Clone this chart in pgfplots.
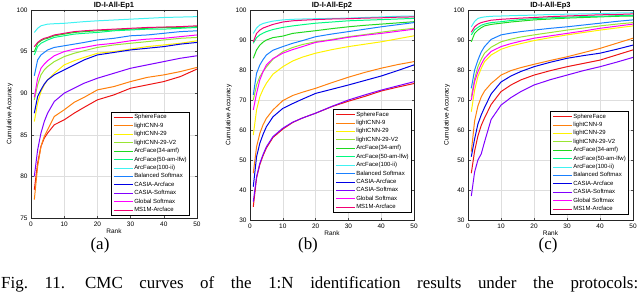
\documentclass[border=0pt]{standalone}
\usepackage{fontspec}
\setmainfont{Liberation Sans}
\newfontfamily\capfont{Liberation Serif}
\usepackage{pgfplots}
\usepackage{pgfplotstable}
\pgfplotsset{compat=1.18}

\definecolor{cSF}{rgb}{0.93,0.08,0.08}
\definecolor{cLC9}{rgb}{1.0,0.50,0.05}
\definecolor{cLC29}{rgb}{1.0,0.95,0.0}
\definecolor{cV2}{rgb}{0.60,0.90,0.20}
\definecolor{cA34}{rgb}{0.12,0.85,0.12}
\definecolor{cA50}{rgb}{0.0,0.98,0.50}
\definecolor{cA100}{rgb}{0.25,0.95,0.95}
\definecolor{cBAL}{rgb}{0.10,0.50,1.0}
\definecolor{cCA}{rgb}{0.0,0.0,0.90}
\definecolor{cCS}{rgb}{0.50,0.0,1.0}
\definecolor{cGS}{rgb}{1.0,0.0,1.0}
\definecolor{cMS}{rgb}{0.95,0.0,0.45}

\pgfplotstableread{
x sf lc9 lc29 v2 af34 af50 af100 bal casaf cassm glob ms1m
1 78.4 77.2 86.6 89.2 95.0 94.6 97.3 92.1 87.6 80.0 89.5 95.6
2 81.6 81.2 88.8 91.0 96.0 95.6 97.8 94.0 89.6 83.2 91.8 96.1
3 83.6 83.6 90.2 92.2 96.3 96.0 98.1 94.6 90.4 85.2 93.0 96.4
4 84.6 84.8 91.0 92.8 96.5 96.2 98.2 94.9 91.1 86.6 93.5 96.6
5 85.2 85.6 91.6 93.2 96.6 96.4 98.3 95.2 91.6 87.6 93.9 96.7
7 86.2 87.2 92.4 93.8 96.9 96.7 98.35 95.5 92.2 89.0 94.5 97.0
10 86.8 88.0 93.4 94.4 97.1 96.9 98.4 95.7 92.8 90.0 95.0 97.2
13 87.6 88.9 93.9 94.8 97.3 97.1 98.5 95.9 93.4 90.6 95.3 97.4
16 88.3 89.5 94.3 95.1 97.4 97.2 98.6 96.1 94.0 91.2 95.5 97.5
20 89.2 90.4 94.8 95.5 97.5 97.3 98.7 96.4 94.6 91.8 95.8 97.6
25 89.8 90.8 95.0 95.8 97.6 97.5 98.8 96.6 94.9 92.4 96.0 97.7
30 90.6 91.4 95.3 96.0 97.7 97.6 98.9 96.9 95.2 93.0 96.3 97.8
35 91.0 91.9 95.6 96.2 97.8 97.7 99.0 97.0 95.4 93.4 96.5 97.9
40 91.4 92.2 95.8 96.4 97.9 97.7 99.1 97.2 95.6 93.8 96.6 97.95
45 92.0 92.6 96.0 96.6 97.9 97.8 99.15 97.4 95.9 94.2 96.8 98.0
50 92.9 93.1 96.3 96.7 98.0 97.9 99.2 97.5 96.1 94.5 97.0 98.1
}\dataA

\pgfplotstableread{
x sf lc9 lc29 v2 af34 af50 af100 bal casaf cassm glob ms1m
1 34.4 45.6 58.3 70.0 83.9 88.9 92.2 71.7 41.1 36.1 66.7 89.4
2 44.0 54.4 66.7 75.0 86.7 90.8 94.0 78.9 51.1 44.4 72.2 92.2
3 48.5 58.9 71.1 77.8 88.3 91.7 95.0 81.7 55.6 48.9 76.7 93.3
4 51.5 61.8 73.6 79.5 89.3 92.3 95.5 83.5 58.6 51.9 79.5 94.0
5 54.0 63.9 75.6 81.0 90.0 92.8 95.8 85.0 61.1 54.4 81.7 94.4
7 57.5 66.7 78.6 83.6 90.8 93.5 96.3 86.6 64.4 57.8 83.8 95.2
10 60.3 69.8 81.1 86.1 91.3 94.2 96.7 87.8 67.2 60.6 85.6 96.0
13 62.5 71.5 83.0 87.5 92.2 94.7 96.9 88.9 68.8 62.6 86.8 96.4
16 64.0 72.6 84.3 88.5 92.6 95.1 97.0 89.8 70.3 64.0 87.8 96.6
20 65.6 73.9 85.6 89.4 93.1 95.6 97.1 91.1 72.2 65.6 89.2 96.8
25 67.8 75.8 86.8 90.2 93.8 96.0 97.2 92.0 73.6 67.9 90.0 97.0
30 69.6 77.6 87.8 91.1 94.4 96.4 97.3 92.8 75.0 70.0 90.9 97.1
35 71.2 79.2 88.6 91.8 94.9 96.6 97.5 93.6 76.5 71.7 91.6 97.3
40 73.0 80.6 89.4 92.6 95.3 96.8 97.7 94.4 78.0 73.3 92.2 97.4
45 74.3 81.8 90.4 93.3 95.7 97.0 97.9 95.1 79.8 74.7 92.9 97.6
50 75.5 82.8 91.4 93.9 96.1 97.2 98.0 95.8 81.7 76.1 93.6 97.7
}\dataB

\pgfplotstableread{
x sf lc9 lc29 v2 af34 af50 af100 bal casaf cassm glob ms1m
1 45.6 52.8 66.1 71.1 89.4 91.7 94.4 73.9 51.1 38.0 70.0 92.6
2 53.0 63.0 73.3 77.0 92.2 93.4 96.2 80.0 57.0 46.0 76.1 94.4
3 58.0 68.0 77.8 81.1 93.3 94.2 97.2 83.3 62.0 50.0 79.4 95.3
4 61.5 71.0 80.5 83.6 94.1 94.9 97.5 86.0 65.0 52.0 81.9 95.8
5 64.0 73.0 82.8 85.6 94.7 95.3 97.7 87.8 67.5 56.0 83.9 96.1
7 68.5 75.5 85.0 87.6 95.2 95.8 97.9 90.2 72.0 63.5 86.2 96.6
10 72.8 78.3 86.9 89.4 95.6 96.1 98.0 91.7 76.0 68.3 87.8 96.9
13 75.0 79.8 88.0 90.3 96.0 96.5 98.1 92.3 78.0 70.8 88.8 97.1
16 76.7 80.8 88.8 91.0 96.3 96.8 98.2 92.8 79.5 72.8 89.6 97.3
20 78.3 81.9 89.8 91.7 96.7 97.1 98.3 93.3 81.1 75.0 90.6 97.5
25 79.8 83.2 90.8 92.5 97.0 97.4 98.5 93.9 82.6 76.8 91.4 97.8
30 81.1 84.4 91.7 93.3 97.3 97.6 98.6 94.4 83.9 78.3 92.2 98.0
35 82.2 85.8 92.5 94.0 97.5 97.8 98.7 95.0 84.8 79.8 93.0 98.2
40 83.3 87.2 93.3 94.7 97.7 97.9 98.8 95.6 85.6 81.1 93.9 98.4
45 85.0 88.9 94.0 95.3 97.9 98.1 99.0 96.2 86.9 82.6 94.6 98.5
50 86.7 90.6 94.7 95.8 98.0 98.2 99.1 96.7 88.3 84.2 95.3 98.7
}\dataC

\newcommand{\cmcplots}[1]{%
\addplot[cSF] table[x=x,y=sf]{#1}; \addlegendentry{SphereFace}
\addplot[cLC9] table[x=x,y=lc9]{#1}; \addlegendentry{lightCNN-9}
\addplot[cLC29] table[x=x,y=lc29]{#1}; \addlegendentry{lightCNN-29}
\addplot[cV2] table[x=x,y=v2]{#1}; \addlegendentry{lightCNN-29-V2}
\addplot[cA34] table[x=x,y=af34]{#1}; \addlegendentry{ArcFace(34-amf)}
\addplot[cA50] table[x=x,y=af50]{#1}; \addlegendentry{ArcFace(50-am-lfw)}
\addplot[cA100] table[x=x,y=af100]{#1}; \addlegendentry{ArcFace(100-ii)}
\addplot[cBAL] table[x=x,y=bal]{#1}; \addlegendentry{Balanced Softmax}
\addplot[cCA] table[x=x,y=casaf]{#1}; \addlegendentry{CASIA-Arcface}
\addplot[cCS] table[x=x,y=cassm]{#1}; \addlegendentry{CASIA-Softmax}
\addplot[cGS] table[x=x,y=glob]{#1}; \addlegendentry{Global Softmax}
\addplot[cMS] table[x=x,y=ms1m]{#1}; \addlegendentry{MS1M-Arcface}
}

\pgfplotsset{cmc/.style={
  scale only axis, anchor=south west,
  xmin=0, xmax=50, xtick={0,10,...,50},
  axis line style={line width=0.5pt, black!85},
  grid=major, major grid style={line width=0.4pt, black!13},
  tick align=inside, major tick length=2.5bp,
  tick style={line width=0.4pt, black!70},
  ticklabel style={font=\fontsize{6.5}{7}\selectfont},
  /pgf/number format/assume math mode=true,
  xlabel={Rank}, ylabel={Cumulative Accuracy},
  label style={font=\fontsize{6.5}{7}\selectfont},
  xlabel style={yshift=4bp}, ylabel style={yshift=-3bp},
  every axis title shift=0pt,
  title style={font=\bfseries\fontsize{7.5}{8}\selectfont, at={(0.5,1)}, anchor=base, yshift=2.8bp},
  every axis plot/.append style={line width=1pt},
  legend cell align=left,
  legend image code/.code={\draw[##1] (0bp,0bp) -- (19bp,0bp);},
  legend style={draw=black, line width=0.6pt, fill=white,
    font=\fontsize{6}{7}\selectfont, inner xsep=2bp, inner ysep=1.5bp,
    row sep=0.6bp, nodes={inner sep=1bp}, anchor=south east},
}}

\begin{document}
\begin{tikzpicture}[x=1bp,y=1bp]
\useasboundingbox (0,0) rectangle (640,292);

\begin{axis}[cmc, at={(31bp,74bp)}, width=166bp, height=208bp,
  ymin=75, ymax=100, ytick={75,80,...,100}, title={ID-I-All-Ep1},
  legend style={at={(rel axis cs:0.958,0.01)}}]
\cmcplots{\dataA}
\end{axis}

\begin{axis}[cmc, at={(250bp,72bp)}, width=164bp, height=210bp,
  ymin=30, ymax=100, ytick={30,40,...,100}, title={ID-I-All-Ep2},
  legend style={at={(rel axis cs:0.988,0.033)}}]
\cmcplots{\dataB}
\end{axis}

\begin{axis}[cmc, at={(468bp,72bp)}, width=165bp, height=210bp,
  ymin=30, ymax=100, ytick={30,40,...,100}, title={ID-I-All-Ep3},
  legend style={at={(rel axis cs:0.976,0.024)}}]
\cmcplots{\dataC}
\end{axis}

\node[font=\capfont\fontsize{17}{18}\selectfont, anchor=base] at (100,43) {(a)};
\node[font=\capfont\fontsize{17}{18}\selectfont, anchor=base] at (308,43) {(b)};
\node[font=\capfont\fontsize{17}{18}\selectfont, anchor=base] at (548,43) {(c)};
\node[font=\capfont\fontsize{17}{18}\selectfont, anchor=base west, inner sep=0pt] at (1,4)
  {\makebox[637bp][s]{Fig.~11.\hskip 20bp CMC curves of the 1:N identification results under the protocols:}};
\end{tikzpicture}
\end{document}
